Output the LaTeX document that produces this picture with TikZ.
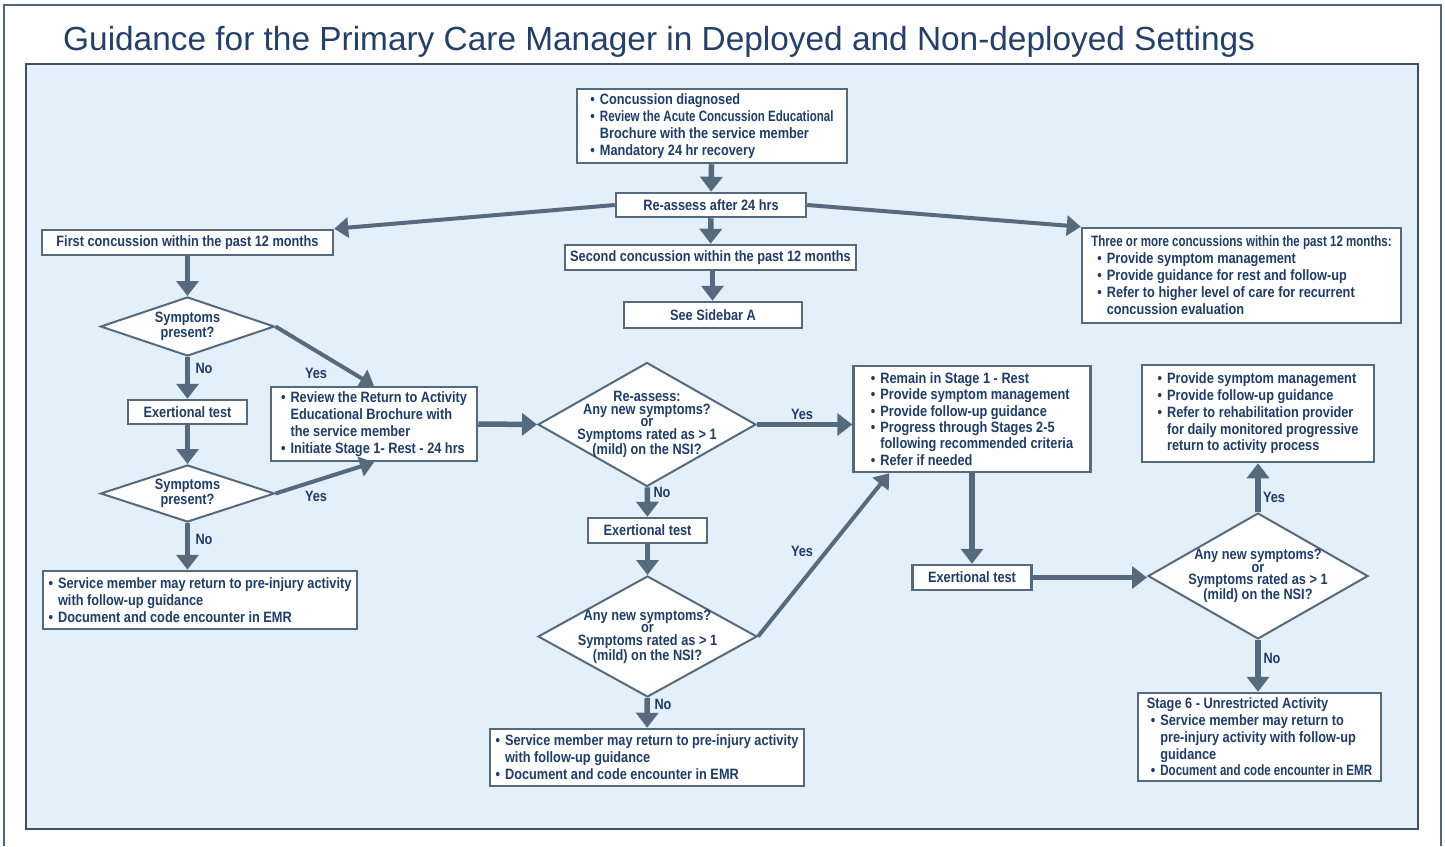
\documentclass[tikz,border=0pt]{standalone}
\usepackage{fontspec}
\setmainfont{Liberation Sans}
\newfontfamily\condfont{Liberation Sans}[FakeStretch=0.85]
\newfontfamily\tightfont{Liberation Sans}[FakeStretch=0.77]
\usetikzlibrary{shapes.geometric,arrows.meta}

\definecolor{navy}{HTML}{1E3D6B}
\definecolor{titleblue}{HTML}{22406B}
\definecolor{edge}{HTML}{566A7E}
\definecolor{panel}{HTML}{E3EFF9}
\definecolor{frame}{HTML}{4F6580}

\newcommand{\bl}{\textbullet\hspace{5pt}}
\newcommand{\ind}{\phantom{\textbullet}\hspace{5pt}}

\begin{document}
\begin{tikzpicture}[x=1pt, y=-1pt,
    box/.style={draw=edge, line width=2.5pt, fill=white, text=navy, align=left, inner sep=2pt,
                font=\condfont\bfseries\fontsize{15}{17}\selectfont},
    dec/.style={diamond, draw=edge, line width=2pt, fill=white, text=navy, align=center, inner sep=-10pt,
                font=\condfont\bfseries\fontsize{15}{12.5}\selectfont},
    flow/.style={draw=edge, line width=5.5pt, -{Triangle[width=22pt,length=15pt]}},
    slim/.style={draw=edge, line width=4pt, -{Triangle[width=20pt,length=14pt]}},
    lbl/.style={text=navy, font=\condfont\bfseries\fontsize{15}{17}\selectfont}]
    \useasboundingbox (0,0) rectangle (1445,846);

    \draw[frame, line width=2pt] (3.5,846) -- (3.5,5) -- (1441,5) -- (1441,846);
    \draw[fill=panel, draw=frame!80!black, line width=1.5pt] (26,64) rectangle (1418,829);
    \node[anchor=base west, text=titleblue, font=\fontsize{33.4}{36}\selectfont, inner sep=0pt] (title) at (63,50)
        {Guidance for the Primary Care Manager in Deployed and Non-deployed Settings};

    % top of the flow
    \node[box, minimum width=270, minimum height=74] (diag) at (712,126)
        {\bl Concussion diagnosed\\ \bl{\tightfont Review the Acute Concussion Educational}\\ \ind Brochure with the  service member\\ \bl Mandatory 24 hr recovery};
    \node[box, align=center, minimum width=190, minimum height=24] (reass) at (711,205) {Re-assess after 24 hrs};
    \node[box, align=center, minimum width=291, minimum height=25] (second) at (710.5,257.5) {Second concussion within the past 12 months};
    \node[box, align=center, minimum width=178, minimum height=26] (sidebar) at (713,315) {See Sidebar A};
    \node[box, align=center, minimum width=291, minimum height=25] (first) at (187.5,242.5) {First concussion within the past 12 months};
    \node[box, minimum width=319, minimum height=95] (three) at (1241.5,275.5)
        {{\tightfont Three or more concussions within the past 12 months:}\\
         \hspace{6pt}\bl Provide symptom management\\ \hspace{6pt}\bl Provide guidance for rest and follow-up\\
         \hspace{6pt}\bl Refer to higher level of care for recurrent\\ \hspace{6pt}\ind concussion evaluation};

    % left column
    \node[dec, shape aspect=2.95, minimum width=174, minimum height=59] (sym1) at (187.5,326.5) {Symptoms\\present?};
    \node[box, align=center, minimum width=119, minimum height=24] (ex1) at (187.5,412) {Exertional test};
    \node[dec, shape aspect=3.05, minimum width=174, minimum height=57] (sym2) at (187.5,493.5) {Symptoms\\present?};
    \node[box, minimum width=206, minimum height=74] (rev) at (374,424)
        {\bl Review the Return to Activity\\ \ind Educational Brochure  with\\ \ind the service member\\ \bl Initiate Stage 1- Rest  - 24 hrs};
    \node[box, minimum width=314, minimum height=58] (fin1) at (200,600)
        {\bl Service member may return to pre-injury activity\\ \ind with follow-up guidance\\ \bl Document and code encounter in EMR};

    % middle column
    \node[dec, shape aspect=1.76, minimum width=218, minimum height=124] (new1) at (647,424.5)
        {Re-assess:\\Any new symptoms?\\or\\Symptoms rated as > 1\\(mild) on the NSI?};
    \node[box, align=center, minimum width=119, minimum height=25] (ex2) at (647.5,530.5) {Exertional test};
    \node[dec, shape aspect=1.81, minimum width=219, minimum height=121] (new2) at (647.5,636.5)
        {Any new symptoms?\\or\\Symptoms rated as > 1\\(mild) on the NSI?};
    \node[box, minimum width=314, minimum height=57] (fin2) at (647,757.5)
        {\bl Service member may return to pre-injury activity\\ \ind with follow-up guidance\\ \bl Document and code encounter in EMR};

    % right columns
    \node[box, minimum width=237, minimum height=106, font=\condfont\bfseries\fontsize{15}{16.4}\selectfont] (rest) at (972,419)
        {\bl Remain in Stage 1 - Rest\\ \bl Provide symptom management\\ \bl Provide follow-up guidance\\
         \bl Progress through Stages 2-5\\ \ind following recommended criteria\\ \bl Refer if needed};
    \node[box, align=center, minimum width=119, minimum height=25] (ex3) at (972,577.5) {Exertional test};
    \node[dec, shape aspect=1.75, minimum width=220, minimum height=126] (new3) at (1258,576)
        {Any new symptoms?\\or\\Symptoms rated as > 1\\(mild) on the NSI?};
    \node[box, minimum width=232, minimum height=97, font=\condfont\bfseries\fontsize{15}{16.8}\selectfont] (rehab) at (1258,413.5)
        {\bl Provide symptom management\\ \bl Provide follow-up guidance\\ \bl Refer to rehabilitation provider\\
         \ind for daily monitored progressive\\ \ind return to activity process};
    \node[box, minimum width=243, minimum height=88, font=\condfont\bfseries\fontsize{15}{16.8}\selectfont] (stage6) at (1259.5,737)
        {Stage 6 - Unrestricted Activity\\ \hspace{4pt}\bl Service member may return to\\ \hspace{4pt}\ind pre-injury activity with follow-up\\
         \hspace{4pt}\ind guidance\\ \hspace{4pt}\bl{\tightfont Document and code encounter in EMR}};

    % connectors
    \draw[flow] (diag) -- (reass);
    \draw[slim] (reass.west) -- (first.north east);
    \draw[slim] (reass.east) -- (three.north west);
    \draw[flow] (reass) -- (second);
    \draw[flow] ([xshift=2pt]second.south) -- ([xshift=2pt]second.south |- sidebar.north);
    \draw[flow] (first) -- (sym1);
    \draw[flow] (sym1) -- (ex1);
    \draw[slim] (sym1.east) -- (rev.north);
    \draw[flow] (ex1) -- (sym2);
    \draw[slim] (sym2.east) -- (rev.south);
    \draw[flow] (sym2.south) -- (sym2.south |- fin1.north);
    \draw[flow] (rev.east) -- (new1.west);
    \draw[flow] (new1.east) -- (new1.east -| rest.west);
    \draw[flow] (new1) -- (ex2);
    \draw[flow] (ex2) -- (new2);
    \draw[slim] (new2.east) -- ([xshift=37pt]rest.south west);
    \draw[flow] (new2) -- (fin2);
    \draw[flow] (rest) -- (ex3);
    \draw[flow] (ex3.east) -- (ex3.east -| new3.west);
    \draw[flow] (new3) -- (rehab);
    \draw[flow] (new3.south) -- (new3.south |- stage6.north);

    % yes / no
    \node[lbl] (no1) at (204,368) {No};
    \node[lbl] (yes1) at (316,373) {Yes};
    \node[lbl] (yes2) at (316,496) {Yes};
    \node[lbl] (no2) at (204,539) {No};
    \node[lbl] (yes3) at (802,414) {Yes};
    \node[lbl] (no3) at (662,492) {No};
    \node[lbl] (yes4) at (802,551) {Yes};
    \node[lbl] (no4) at (663,704) {No};
    \node[lbl] (yes5) at (1274,497) {Yes};
    \node[lbl] (no5) at (1272,658) {No};
\end{tikzpicture}
\end{document}
